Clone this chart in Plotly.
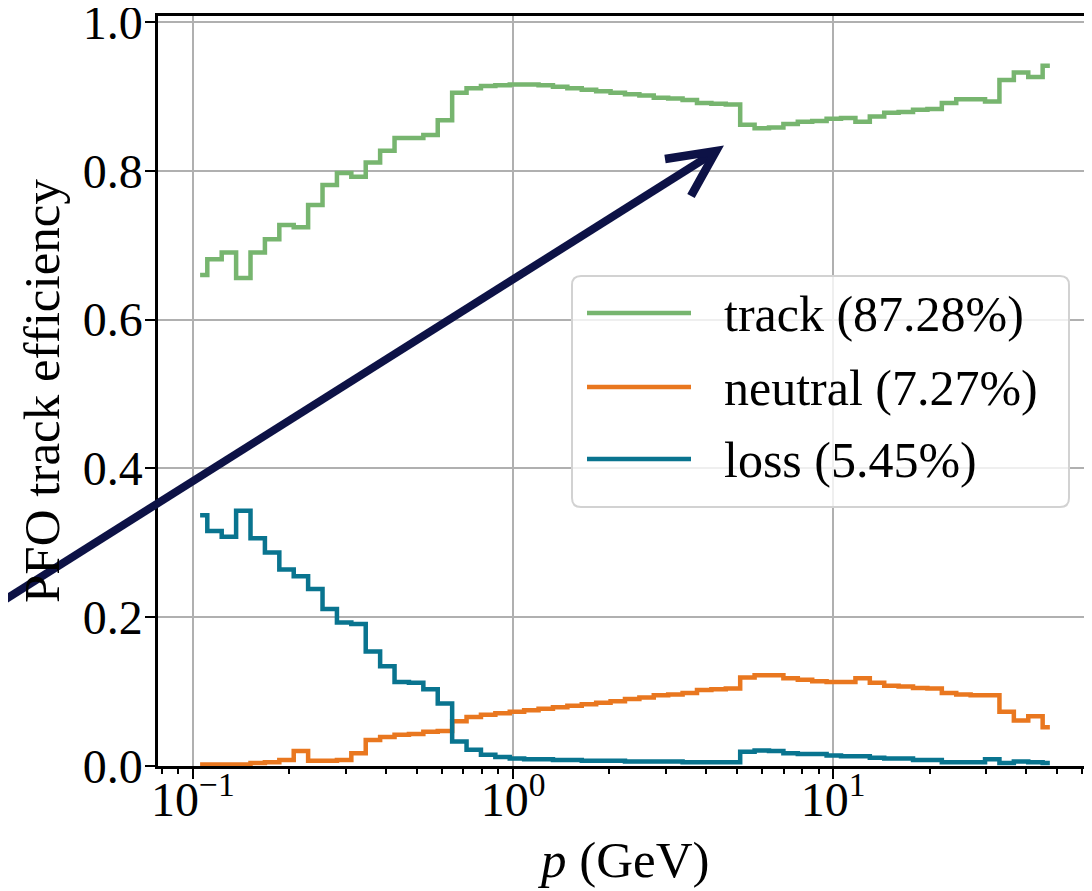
import numpy as np
import plotly.graph_objects as go

# ---------------- data ----------------
# 60 log-spaced momentum bins from 0.1 to 50 GeV
bin_edges = np.geomspace(0.1, 50.0, 61)
bin_centers = np.sqrt(bin_edges[:-1] * bin_edges[1:])

track = [0.660, 0.681, 0.690, 0.656, 0.690, 0.708, 0.727, 0.724, 0.754, 0.781,
         0.797, 0.792, 0.811, 0.827, 0.844, 0.844, 0.848, 0.868, 0.905, 0.911,
         0.914, 0.915, 0.916, 0.916, 0.915, 0.913, 0.911, 0.909, 0.907, 0.905,
         0.903, 0.901, 0.898, 0.897, 0.895, 0.891, 0.890, 0.889, 0.862, 0.857,
         0.858, 0.863, 0.866, 0.867, 0.870, 0.871, 0.866, 0.873, 0.878, 0.879,
         0.882, 0.883, 0.891, 0.896, 0.896, 0.893, 0.922, 0.932, 0.926, 0.941]

neutral = [0.002, 0.002, 0.002, 0.002, 0.004, 0.005, 0.008, 0.020, 0.007, 0.007,
           0.008, 0.017, 0.035, 0.039, 0.042, 0.043, 0.046, 0.047, 0.060, 0.066,
           0.069, 0.071, 0.073, 0.075, 0.077, 0.079, 0.081, 0.083, 0.085, 0.087,
           0.090, 0.092, 0.095, 0.096, 0.098, 0.102, 0.103, 0.104, 0.119, 0.122,
           0.122, 0.118, 0.116, 0.114, 0.113, 0.113, 0.118, 0.112, 0.108, 0.107,
           0.105, 0.104, 0.098, 0.096, 0.095, 0.095, 0.073, 0.061, 0.067, 0.052]

loss = [0.337, 0.316, 0.308, 0.343, 0.306, 0.287, 0.264, 0.255, 0.238, 0.211,
        0.193, 0.191, 0.154, 0.134, 0.113, 0.112, 0.103, 0.084, 0.033, 0.022,
        0.015, 0.012, 0.010, 0.009, 0.009, 0.008, 0.008, 0.007, 0.007, 0.007,
        0.006, 0.006, 0.006, 0.006, 0.005, 0.005, 0.005, 0.005, 0.019, 0.021,
        0.020, 0.017, 0.016, 0.016, 0.014, 0.013, 0.013, 0.011, 0.010, 0.010,
        0.008, 0.008, 0.005, 0.005, 0.005, 0.009, 0.004, 0.006, 0.005, 0.004]

series_names = ["track (87.28%)", "neutral (7.27%)", "loss (5.45%)"]
series_colors = ["#77b56f", "#e9771f", "#09748f"]

x_tickvals = [0.1, 1, 10]
x_ticktext = ["10<sup>\u22121</sup>", "10<sup>0</sup>", "10<sup>1</sup>"]
x_minor = [0.08, 0.09, 0.2, 0.3, 0.4, 0.5, 0.6, 0.7, 0.8, 0.9,
           2, 3, 4, 5, 6, 7, 8, 9, 20, 30, 40, 50, 60]
y_tickvals = [0.0, 0.2, 0.4, 0.6, 0.8, 1.0]
y_ticktext = ["0.0", "0.2", "0.4", "0.6", "0.8", "1.0"]

# ---------------- layout geometry (page pixels) ----------------
OFF = 8                      # default body margin of the html page
PL, PR, PT, PB = 158, 1091, 16, 766   # plot area on the page
FW, FH = 1092 - OFF, 891 - OFF
FONT = "Liberation Serif, Times New Roman, serif"
FS = 48
FS_LEG = 50
FS_TITLE = 51


def px(x):
    return (x - PL) / (PR - PL)


def py(y):
    return (PB - y) / (PB - PT)


fig = go.Figure()
for vals, name, col in zip([track, neutral, loss], series_names, series_colors):
    fig.add_trace(go.Scatter(
        x=bin_centers, y=vals, mode="lines", name=name,
        line=dict(color=col, width=4.5, shape="hvh"),
        showlegend=False, hoverinfo="skip"))

shapes = []
annotations = []

# ---- legend (drawn manually to match matplotlib style) ----
lx0, lx1, ly0, ly1, rr = 572, 1069, 276, 507, 9
rx, ry = rr / (PR - PL), rr / (PB - PT)
X0, X1, Y0, Y1 = px(lx0), px(lx1), py(ly0), py(ly1)
path = (f"M {X0+rx},{Y0} L {X1-rx},{Y0} Q {X1},{Y0} {X1},{Y0-ry} "
        f"L {X1},{Y1+ry} Q {X1},{Y1} {X1-rx},{Y1} L {X0+rx},{Y1} "
        f"Q {X0},{Y1} {X0},{Y1+ry} L {X0},{Y0-ry} Q {X0},{Y0} {X0+rx},{Y0} Z")
shapes.append(dict(type="path", xref="paper", yref="paper", path=path,
                   fillcolor="rgba(255,255,255,0.8)",
                   line=dict(color="#d2d2d2", width=2), layer="above"))
entry_y = [313, 387, 459]
for ey, name, col in zip(entry_y, series_names, series_colors):
    shapes.append(dict(type="line", xref="paper", yref="paper",
                       x0=px(587), x1=px(691), y0=py(ey), y1=py(ey),
                       line=dict(color=col, width=4.5), layer="above"))
    annotations.append(dict(xref="paper", yref="paper", x=px(722), y=py(ey + 1),
                            xanchor="left", yanchor="middle", showarrow=False,
                            text=name, font=dict(family=FONT, size=FS_LEG, color="black")))

# ---- arrow ----
navy = "#0d1246"
shapes.append(dict(type="line", xref="paper", yref="paper",
                   x0=px(-10), y0=py(609), x1=px(712), y1=py(154),
                   line=dict(color=navy, width=8), layer="above"))
shapes.append(dict(type="path", xref="paper", yref="paper",
                   path=f"M {px(665)},{py(159)} L {px(716)},{py(151)} L {px(691)},{py(196)}",
                   line=dict(color=navy, width=8.5), layer="above"))

# ---- axis titles ----
annotations.append(dict(xref="paper", yref="paper", x=px(42), y=py(391),
                        xanchor="center", yanchor="middle", textangle=-90,
                        showarrow=False, text="PFO track efficiency",
                        font=dict(family=FONT, size=FS_TITLE, color="black")))
annotations.append(dict(xref="paper", yref="paper", x=px(624), y=py(860),
                        xanchor="center", yanchor="middle",
                        showarrow=False, text="<i>p</i> (GeV)",
                        font=dict(family=FONT, size=FS_TITLE, color="black")))

fig.update_layout(
    width=FW, height=FH,
    margin=dict(l=PL - OFF, r=FW - (PR - OFF), t=PT - OFF, b=FH - (PB - OFF),
                pad=0, autoexpand=False),
    paper_bgcolor="white", plot_bgcolor="white",
    font=dict(family=FONT, size=FS, color="black"),
    shapes=shapes, annotations=annotations,
    showlegend=False,
)
fig.update_xaxes(
    type="log", range=[-1.109, 1.805], automargin=False,
    tickmode="array", tickvals=x_tickvals, ticktext=x_ticktext,
    ticks="outside", ticklen=10, tickwidth=2, tickcolor="black",
    showline=True, linewidth=2.5, linecolor="black", mirror=True,
    showgrid=True, gridcolor="#b0b0b0", gridwidth=2, zeroline=False,
    minor=dict(tickmode="array", tickvals=x_minor, ticks="outside", ticklen=5,
               tickwidth=1.5, tickcolor="black", showgrid=False),
    ticklabelstandoff=-20, ticklabeloverflow="allow",
    tickfont=dict(family=FONT, size=FS, color="black"),
)
fig.update_yaxes(
    range=[0, 1.008], tickmode="array",
    tickvals=y_tickvals, ticktext=y_ticktext, automargin=False,
    ticks="outside", ticklen=10, tickwidth=2, tickcolor="black",
    showline=True, linewidth=2.5, linecolor="black", mirror=True,
    showgrid=True, gridcolor="#b0b0b0", gridwidth=2, zeroline=False,
    ticklabelstandoff=-7, ticklabeloverflow="allow",
    tickfont=dict(family=FONT, size=FS, color="black"),
)

fig.write_html("out.html")
